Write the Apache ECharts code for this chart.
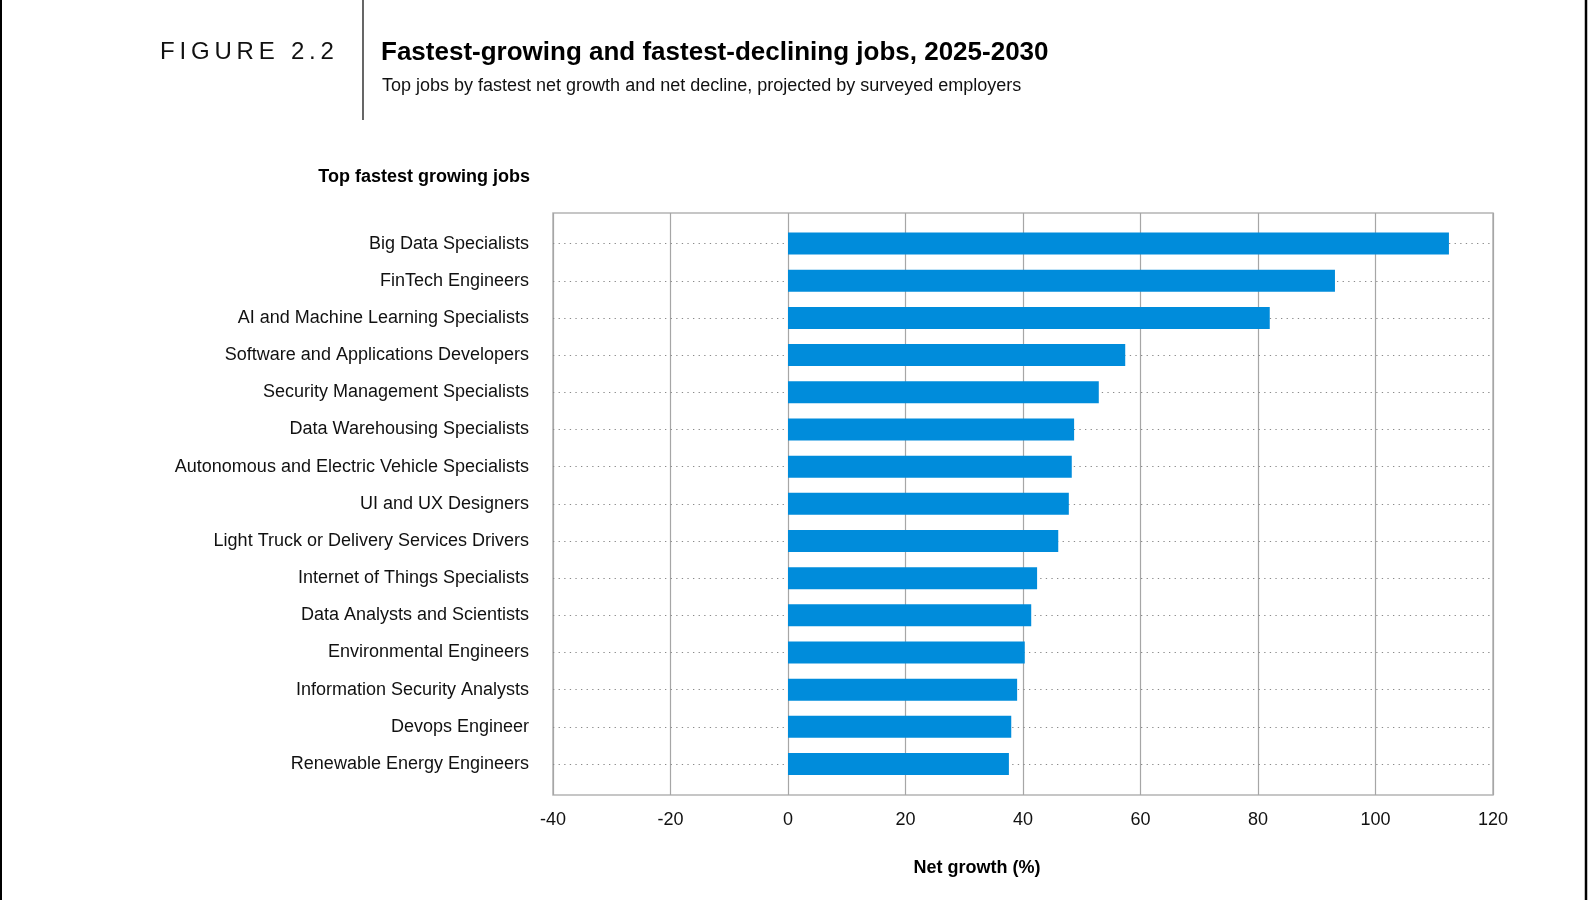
<!DOCTYPE html>
<html>
<head>
<meta charset="utf-8">
<script src="https://cdn.jsdelivr.net/npm/echarts@6/dist/echarts.min.js"></script>
<style>
html,body{margin:0;padding:0;background:#fff;}
#chart{width:1588px;height:900px;}
</style>
</head>
<body>
<div id="chart"></div>
<script>
const categories = [
  "Big Data Specialists",
  "FinTech Engineers",
  "AI and Machine Learning Specialists",
  "Software and Applications Developers",
  "Security Management Specialists",
  "Data Warehousing Specialists",
  "Autonomous and Electric Vehicle Specialists",
  "UI and UX Designers",
  "Light Truck or Delivery Services Drivers",
  "Internet of Things Specialists",
  "Data Analysts and Scientists",
  "Environmental Engineers",
  "Information Security Analysts",
  "Devops Engineer",
  "Renewable Energy Engineers"
];
const netGrowth = [112.5, 93.1, 82.0, 57.4, 52.9, 48.7, 48.3, 47.8, 46.0, 42.4, 41.4, 40.3, 39.0, 38.0, 37.6];
const xMin = -40, xMax = 120, xStep = 20;

const FONT = '"Liberation Sans", Arial, sans-serif';
const chart = echarts.init(document.getElementById('chart'));

const option = {
  animation: false,
  backgroundColor: '#fff',
  textStyle: { fontFamily: FONT },
  grid: [
    { left: 553, right: 95, top: 213, bottom: 105, show: true, borderColor: '#b4b4b4', borderWidth: 1.5, containLabel: false },
    { left: 553, right: 95, top: 225, bottom: 117.4, containLabel: false }
  ],
  xAxis: [
    {
      gridIndex: 0, type: 'value', min: xMin, max: xMax, interval: xStep,
      axisLine: { show: false }, axisTick: { show: false },
      axisLabel: { fontSize: 18, color: '#111', margin: 16, fontFamily: FONT },
      splitLine: { show: true, lineStyle: { color: '#a6a6a6', width: 1.2 } }
    },
    {
      gridIndex: 1, type: 'value', min: xMin, max: xMax, interval: xStep, show: false
    }
  ],
  yAxis: [
    { gridIndex: 0, type: 'value', show: false, min: 0, max: 1 },
    {
      gridIndex: 1, type: 'category', data: categories, inverse: true,
      axisLine: { show: false }, axisTick: { show: false },
      axisLabel: { fontSize: 18, color: '#111', margin: 24, fontFamily: FONT },
      splitLine: { show: false }
    }
  ],
  series: [
    {
      type: 'bar', xAxisIndex: 1, yAxisIndex: 1, data: netGrowth,
      barWidth: 22, z: 3,
      itemStyle: { color: '#008cdb' },
      markLine: {
        z: 1, silent: true, symbol: 'none', label: { show: false },
        lineStyle: { color: '#8a8a8a', type: [1.3, 4.3], width: 1.2 },
        data: categories.map(c => ({ yAxis: c }))
      }
    }
  ],
  graphic: [
    { type: 'line', shape: { x1: 1, y1: 0, x2: 1, y2: 900 }, style: { stroke: '#000', lineWidth: 2 } },
    { type: 'line', shape: { x1: 1586, y1: 0, x2: 1586, y2: 900 }, style: { stroke: '#000', lineWidth: 2.5 } },
    { type: 'line', shape: { x1: 363, y1: 0, x2: 363, y2: 120 }, style: { stroke: '#000', lineWidth: 1.2 } },
    { type: 'text', x: 160, y: 52, style: { text: 'F\u2009I\u2009G\u2009U\u2009R\u2009E\u2009 \u20092\u2009.\u20092', font: '24px ' + FONT, fill: '#111', textVerticalAlign: 'middle', textAlign: 'left' } },
    { type: 'text', x: 381, y: 53, style: { text: 'Fastest-growing and fastest-declining jobs, 2025-2030', font: 'bold 26px ' + FONT, fill: '#000', textVerticalAlign: 'middle', textAlign: 'left' } },
    { type: 'text', x: 382, y: 86, style: { text: 'Top jobs by fastest net growth and net decline, projected by surveyed employers', font: '18px ' + FONT, fill: '#111', textVerticalAlign: 'middle', textAlign: 'left' } },
    { type: 'text', x: 530, y: 177, style: { text: 'Top fastest growing jobs', font: 'bold 18px ' + FONT, fill: '#000', textVerticalAlign: 'middle', textAlign: 'right' } },
    { type: 'text', x: 977, y: 868, style: { text: 'Net growth (%)', font: 'bold 18px ' + FONT, fill: '#000', textVerticalAlign: 'middle', textAlign: 'center' } }
  ]
};
chart.setOption(option);
</script>
</body>
</html>
